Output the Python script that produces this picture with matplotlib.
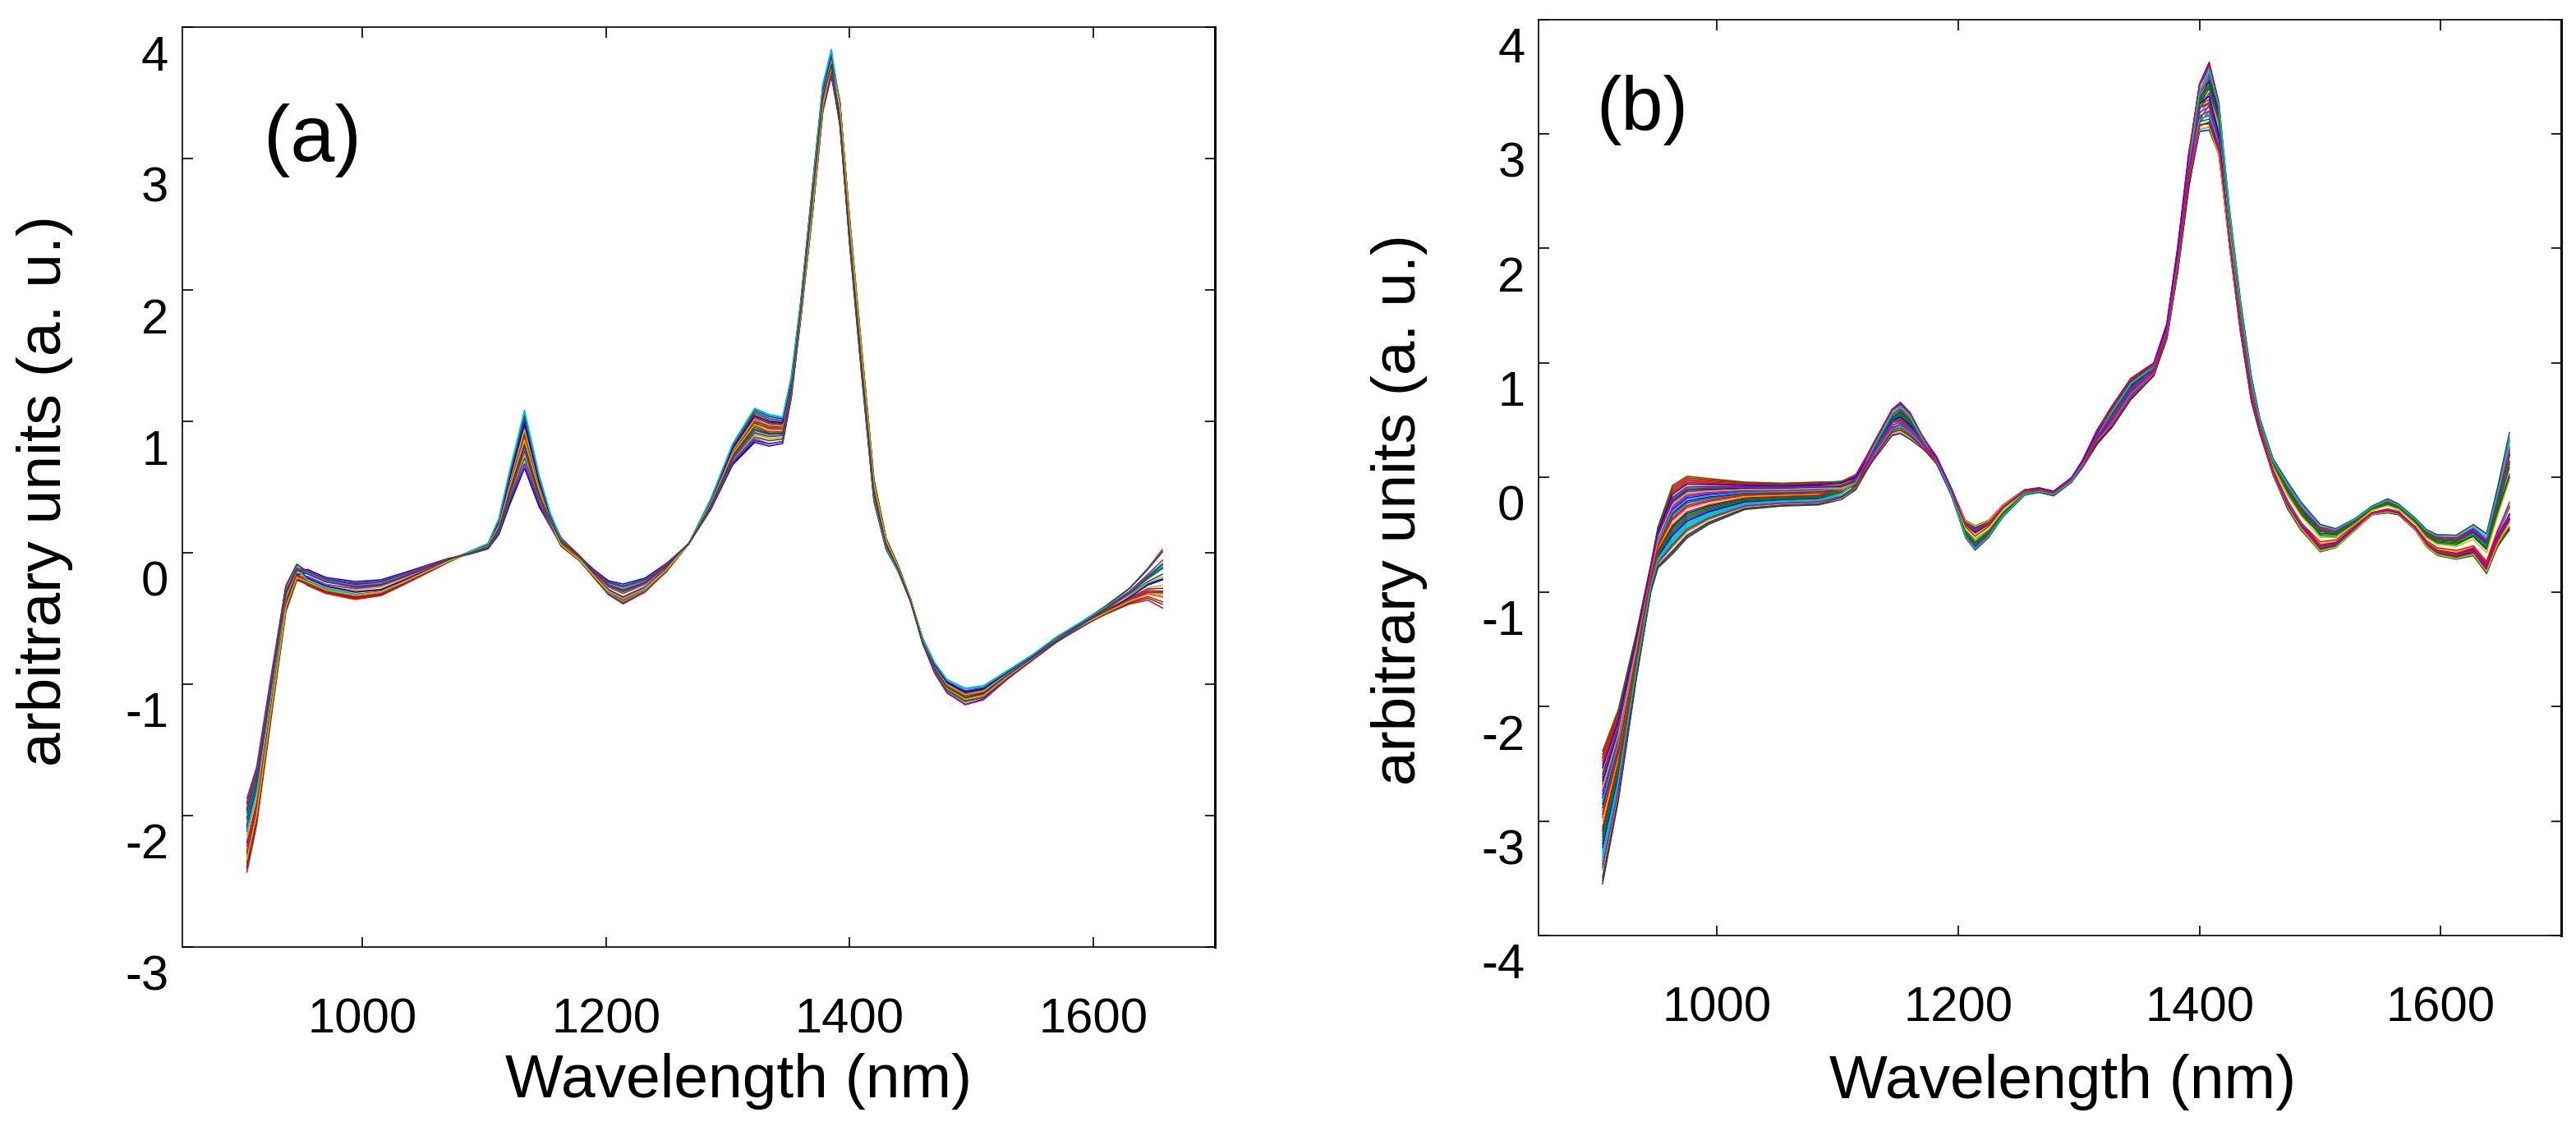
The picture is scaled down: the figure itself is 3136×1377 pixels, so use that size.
import numpy as np
import matplotlib
matplotlib.use("Agg")
import matplotlib.pyplot as plt
from matplotlib import transforms

plt.rcParams['font.family'] = ['Liberation Sans', 'DejaVu Sans']
plt.rcParams['axes.unicode_minus'] = False

# ---- panel (a): mean spectrum, two variation loadings, per-sample scores ----
wl_a = [905, 913, 925, 937, 946, 955, 970, 994, 1015, 1034,
        1052, 1070, 1088, 1103, 1112, 1121, 1133, 1145, 1154, 1163,
        1178, 1190, 1202, 1214, 1232, 1250, 1268, 1286, 1304, 1322,
        1334, 1345, 1352, 1360, 1370, 1378, 1385, 1392, 1400, 1410,
        1420, 1430, 1440, 1450, 1460, 1470, 1480, 1495, 1510, 1530,
        1550, 1570, 1590, 1610, 1630, 1645, 1657]
mean_a = [-2.15, -1.85, -1.09, -0.35, -0.15, -0.19, -0.25, -0.29, -0.27, -0.20,
          -0.13, -0.06, 0.00, 0.05, 0.20, 0.50, 0.86, 0.47, 0.25, 0.08,
          -0.04, -0.16, -0.27, -0.32, -0.25, -0.11, 0.07, 0.37, 0.75, 0.97,
          0.93, 0.93, 1.25, 1.85, 2.72, 3.45, 3.72, 3.35, 2.45, 1.45,
          0.48, 0.07, -0.12, -0.36, -0.67, -0.88, -1.02, -1.10, -1.07, -0.93,
          -0.80, -0.66, -0.55, -0.44, -0.33, -0.24, -0.20]
load1_a = [0.0, 0.0, 0.0, 0.02, 0.03, -0.03, -0.03, -0.04, -0.04, -0.03,
           -0.02, -0.01, 0.01, 0.02, 0.06, 0.13, 0.22, 0.12, 0.05, 0.02,
           0.0, -0.02, -0.04, -0.06, -0.04, -0.02, 0.0, 0.04, 0.08, 0.13,
           0.12, 0.10, 0.08, 0.06, 0.08, 0.09, 0.10, 0.06, 0.0, -0.04,
           -0.05, -0.03, -0.02, 0.0, 0.02, 0.04, 0.05, 0.06, 0.05, 0.03,
           0.02, 0.02, 0.02, 0.02, 0.02, 0.03, 0.05]
load2_a = [0.28, 0.22, 0.16, 0.10, 0.06, 0.05, 0.05, 0.05, 0.04, 0.03,
           0.02, 0.01, 0.0, 0.0, 0.0, 0.0, 0.02, 0.0, 0.02, 0.03,
           0.02, 0.02, 0.03, 0.04, 0.03, 0.02, 0.0, 0.0, 0.0, 0.0,
           0.01, 0.01, 0.02, 0.05, 0.10, 0.08, 0.04, -0.06, -0.10, -0.10,
           -0.08, -0.04, -0.02, -0.01, 0.0, 0.01, 0.02, 0.03, 0.03, 0.02,
           0.01, 0.0, 0.01, 0.03, 0.06, 0.12, 0.22]
score1_a = [0.9, -0.3, 0.5, 1.0, 0.1, -0.6, 0.3, -0.9, 0.7, 0.0,
            -0.2, 0.4, -0.5, 0.8, -1.0, 0.2, 0.6, -0.4, -0.8, 0.35,
            -0.1, 0.55, -0.7, 0.15, 0.95, -0.45, 0.05, -0.25]
score2_a = [-0.2, 0.6, -0.9, 0.3, 1.0, -0.4, 0.1, 0.7, -0.6, -1.0,
            0.4, 0.85, -0.1, -0.5, 0.2, 0.9, -0.75, 0.5, -0.3, 0.0,
            -0.85, 0.25, 0.65, -0.45, 0.15, 0.75, -0.65, 0.45]

# ---- panel (b) ----
wl_b = [905, 918, 933, 945, 951, 963, 975, 993, 1023, 1054,
        1084, 1103, 1115, 1130, 1145, 1152, 1160, 1170, 1182, 1194,
        1206, 1214, 1225, 1237, 1255, 1267, 1279, 1294, 1303, 1315,
        1327, 1343, 1362, 1373, 1382, 1391, 1400, 1408, 1416, 1425,
        1434, 1443, 1450, 1461, 1473, 1484, 1500, 1513, 1529, 1543,
        1556, 1565, 1579, 1588, 1597, 1613, 1627, 1638, 1647, 1657]
mean_b = [-2.97, -2.43, -1.56, -0.88, -0.61, -0.37, -0.26, -0.21, -0.16, -0.15,
          -0.14, -0.11, -0.04, 0.23, 0.48, 0.52, 0.45, 0.31, 0.15, -0.12,
          -0.45, -0.53, -0.45, -0.29, -0.13, -0.11, -0.14, -0.02, 0.12, 0.35,
          0.52, 0.77, 0.94, 1.28, 1.91, 2.67, 3.23, 3.33, 3.05, 2.16,
          1.40, 0.77, 0.45, 0.09, -0.16, -0.34, -0.53, -0.53, -0.41, -0.29,
          -0.25, -0.28, -0.41, -0.53, -0.59, -0.61, -0.55, -0.67, -0.36, -0.05]
load1_b = [0.0, 0.0, 0.0, 0.0, 0.0, 0.0, 0.0, 0.0, 0.0, 0.0,
           0.0, 0.02, 0.04, 0.08, 0.12, 0.14, 0.12, 0.06, 0.02, 0.0,
           -0.05, -0.08, -0.05, -0.03, -0.01, 0.0, 0.0, 0.0, 0.02, 0.06,
           0.10, 0.10, 0.06, 0.05, 0.08, 0.15, 0.22, 0.30, 0.22, 0.10,
           0.05, 0.03, 0.02, 0.03, 0.05, 0.06, 0.08, 0.06, 0.04, 0.02,
           0.03, 0.02, 0.03, 0.05, 0.06, 0.07, 0.08, 0.10, 0.14, 0.20]
load2_b = [0.58, 0.40, 0.20, 0.12, 0.18, 0.30, 0.27, 0.20, 0.12, 0.10,
           0.10, 0.08, 0.06, 0.04, 0.03, 0.02, 0.02, 0.03, 0.03, 0.03,
           0.05, 0.06, 0.05, 0.04, 0.02, 0.02, 0.02, 0.02, 0.03, 0.05,
           0.06, 0.05, 0.04, 0.06, 0.10, 0.12, 0.06, 0.02, -0.05, -0.12,
           -0.12, -0.10, -0.06, -0.06, -0.10, -0.10, -0.08, -0.05, -0.03, -0.03,
           -0.05, -0.04, -0.04, -0.05, -0.06, -0.07, -0.10, -0.13, -0.20, -0.35]
score1_b = [0.8, -0.4, 0.2, -0.9, 0.6, 0.0, -0.2, 1.0, -0.7, 0.4,
            -0.1, 0.9, -0.5, 0.3, -1.0, 0.7, -0.3, 0.5, -0.8, 0.1,
            0.65, -0.6, 0.25, -0.15, 0.85, -0.45, 0.05, -0.85, 0.45, -0.25,
            0.95, -0.55, 0.15, -0.95, 0.55, -0.05, 0.35, -0.75, 0.75, -0.35]
score2_b = [0.3, -0.7, 0.9, 0.1, -0.4, 0.6, -1.0, -0.2, 0.5, 0.8,
            -0.6, 0.0, 0.7, -0.9, 0.2, -0.3, 1.0, -0.5, 0.4, -0.8,
            0.15, 0.55, -0.25, 0.85, -0.65, 0.35, -0.05, 0.65, -0.45, 0.95,
            -0.15, 0.25, -0.75, 0.45, -0.95, 0.75, -0.35, 0.05, -0.55, 0.6]

# old matlab colour order
colors = [(0, 0, 1), (0, 0.5, 0), (1, 0, 0), (0, 0.75, 0.75),
          (0.75, 0, 0.75), (0.75, 0.75, 0), (0.25, 0.25, 0.25)]

xticks = [1000, 1200, 1400, 1600]


def draw_panel(ax, wl, mean, l1, l2, s1, s2, ylim, tag, tagpos, tagsize,
               xlab_pos, ylab_pos):
    mean = np.array(mean)
    l1 = np.array(l1)
    l2 = np.array(l2)
    for i in range(len(s1)):
        y = mean + s1[i] * l1 + s2[i] * l2
        ax.plot(wl, y, color=colors[i % len(colors)], lw=0.55)

    ax.set_xlim(852, 1700)
    ax.set_ylim(*ylim)
    ax.set_xticks(xticks)
    ax.set_yticks(np.arange(int(ylim[0]), 5))
    ax.tick_params(direction='in', top=True, right=True, length=4.5,
                   width=0.6, labelsize=21.5)
    ax.tick_params(axis='x', pad=22)
    ax.tick_params(axis='y', pad=6)
    for sp in ax.spines.values():
        sp.set_linewidth(0.6)
    ax.spines['right'].set_linewidth(1.1)

    # y labels sit a bit below their ticks in the original
    off = transforms.ScaledTranslation(0, -31 / 200, ax.figure.dpi_scale_trans)
    for lab in ax.get_yticklabels():
        lab.set_transform(lab.get_transform() + off)

    ax.set_xlabel('Wavelength (nm)', fontsize=27, va='center')
    ax.xaxis.set_label_coords(*xlab_pos)
    ax.set_ylabel('arbitrary units (a. u.)', fontsize=27, va='center')
    ax.yaxis.set_label_coords(*ylab_pos)
    ax.text(tagpos[0], tagpos[1], tag, transform=ax.transAxes,
            ha='center', va='center', fontsize=tagsize)


fig = plt.figure(figsize=(15.68, 6.885), dpi=200)
ax1 = fig.add_axes([0.0708, 0.1627, 0.4008, 0.8133])
ax2 = fig.add_axes([0.5973, 0.1729, 0.3970, 0.8099])

draw_panel(ax1, wl_a, mean_a, load1_a, load2_a, score1_a, score2_a,
           (-3, 3.98), '(a)', (0.126, 0.877), 35, (0.539, -0.146), (-0.133, 0.496))
draw_panel(ax2, wl_b, mean_b, load1_b, load2_b, score1_b, score2_b,
           (-4, 3.97), '(b)', (0.101, 0.901), 33, (0.512, -0.16), (-0.1365, 0.465))

fig.savefig('out.png', dpi=200)
